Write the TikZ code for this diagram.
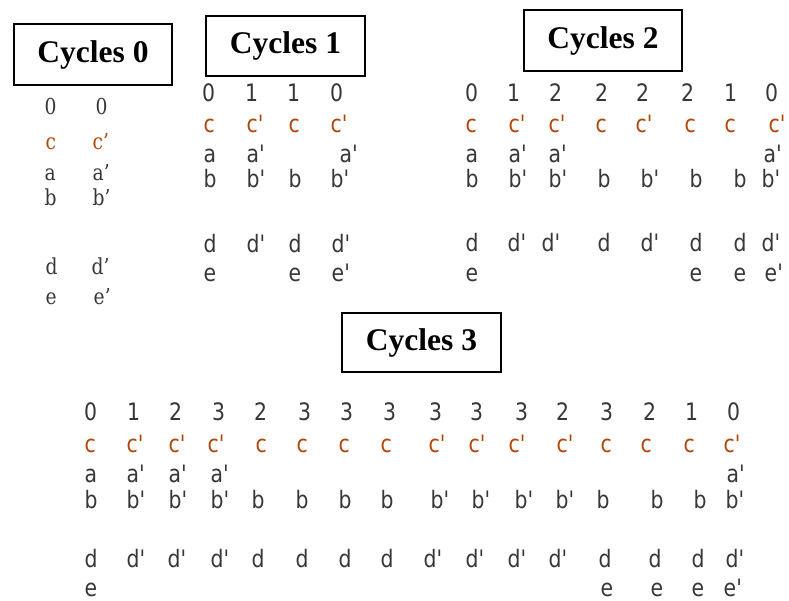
\documentclass[tikz,border=0pt]{standalone}
\usepackage{fontspec}
\newfontfamily\gridfont[FakeStretch=0.85]{DejaVu Sans}
\newfontfamily\oldfont[FakeStretch=0.85]{DejaVu Serif}
\newfontfamily\titlefont{Liberation Serif}
\definecolor{cc}{RGB}{175,70,10}
\definecolor{gt}{RGB}{55,55,55}
\newcommand{\myap}{\textquotesingle}
\tikzset{
  g/.style={font=\gridfont\fontsize{24}{24}\selectfont, text=gt, inner sep=0pt, anchor=base west, xshift=-1.5pt},
  gd/.style={g, anchor=base, xshift=0pt},
  gc/.style={g, text=cc},
  o/.style={font=\oldfont\fontsize{22}{22}\selectfont, text=gt, inner sep=0pt, anchor=base west, xshift=-1.5pt},
  od/.style={o, anchor=base, xshift=0pt},
  oc/.style={o, text=cc},
  titlebox/.style={draw, line width=1.6pt, inner sep=0pt, font=\titlefont\bfseries\fontsize{31.5}{31.5}\selectfont}
}
\begin{document}
\begin{tikzpicture}[x=1pt,y=-1pt]
\useasboundingbox (0,0) rectangle (789,601);
% title boxes
\node[titlebox, minimum width=158pt, minimum height=61pt] (t0) at (93,54.5) {Cycles 0};
\node[titlebox, minimum width=159pt, minimum height=60pt] (t1) at (285.5,46) {Cycles 1};
\node[titlebox, minimum width=158pt, minimum height=61pt] (t2) at (603,40.5) {Cycles 2};
\node[titlebox, minimum width=159pt, minimum height=59pt] (t3) at (421.5,342.5) {Cycles 3};
% Cycles 0
\foreach \x/\t [count=\i] in {52/0,103/0} \node[od] (z0n\i) at (\x,115) {\t};
\foreach \x/\t [count=\i] in {47/c,94/c’} \node[oc] (z0c\i) at (\x,150) {\t};
\foreach \x/\t [count=\i] in {46/a,94/a’} \node[o] (z0a\i) at (\x,181) {\t};
\foreach \x/\t [count=\i] in {46/b,94/b’} \node[o] (z0b\i) at (\x,206) {\t};
\foreach \x/\t [count=\i] in {47/d,93/d’} \node[o] (z0d\i) at (\x,275) {\t};
\foreach \x/\t [count=\i] in {47/e,95/e’} \node[o] (z0e\i) at (\x,305) {\t};
% Cycles 1
\foreach \x/\t [count=\i] in {210/0,253/1,295/1,338/0} \node[gd] (z1n\i) at (\x,102) {\t};
\foreach \x/\t [count=\i] in {205/c,248/c\myap,290/c,332/c\myap} \node[gc] (z1c\i) at (\x,133) {\t};
\foreach \x/\t [count=\i] in {205/a,248/a\myap,341/a\myap} \node[g] (z1a\i) at (\x,163) {\t};
\foreach \x/\t [count=\i] in {205/b,248/b\myap,290/b,332/b\myap} \node[g] (z1b\i) at (\x,188) {\t};
\foreach \x/\t [count=\i] in {205/d,248/d\myap,290/d,333/d\myap} \node[g] (z1d\i) at (\x,253) {\t};
\foreach \x/\t [count=\i] in {205/e,290/e,333/e\myap} \node[g] (z1e\i) at (\x,282) {\t};
% Cycles 2
\foreach \x/\t [count=\i] in {473/0,515/1,557/2,603/2,644/2,689/2,732/1,773/0} \node[gd] (z2n\i) at (\x,102) {\t};
\foreach \x/\t [count=\i] in {467/c,510/c\myap,550/c\myap,597/c,637/c\myap,686/c,726/c,770/c\myap} \node[gc] (z2c\i) at (\x,133) {\t};
\foreach \x/\t [count=\i] in {467/a,510/a\myap,550/a\myap,765/a\myap} \node[g] (z2a\i) at (\x,163) {\t};
\foreach \x/\t [count=\i] in {467/b,510/b\myap,550/b\myap,599/b,642/b\myap,691/b,735/b,763/b\myap} \node[g] (z2b\i) at (\x,188) {\t};
\foreach \x/\t [count=\i] in {467/d,509/d\myap,543/d\myap,599/d,642/d\myap,691/d,735/d,763/d\myap} \node[g] (z2d\i) at (\x,252) {\t};
\foreach \x/\t [count=\i] in {467/e,691/e,735/e,766/e\myap} \node[g] (z2e\i) at (\x,282) {\t};
% Cycles 3
\foreach \x/\t [count=\i] in {92/0,135/1,177/2,220/3,262/2,306/3,348/3,391/3,437/3,478/3,523/3,564/2,608/3,651/2,693/1,735/0} \node[gd] (z3n\i) at (\x,420) {\t};
\foreach \x/\t [count=\i] in {86/c,128/c\myap,170/c\myap,209/c\myap,257/c,298/c,340/c,382/c,430/c\myap,470/c\myap,510/c\myap,558/c\myap,602/c,642/c,685/c,725/c\myap} \node[gc] (z3c\i) at (\x,452) {\t};
\foreach \x/\t [count=\i] in {86/a,128/a\myap,170/a\myap,212/a\myap,728/a\myap} \node[g] (z3a\i) at (\x,482) {\t};
\foreach \x/\t [count=\i] in {86/b,128/b\myap,170/b\myap,212/b\myap,253/b,297/b,340/b,382/b,432/b\myap,473/b\myap,516/b\myap,557/b\myap,598/b,652/b,695/b,727/b\myap} \node[g] (z3b\i) at (\x,508) {\t};
\foreach \x/\t [count=\i] in {86/d,128/d\myap,169/d\myap,212/d\myap,253/d,297/d,340/d,382/d,425/d\myap,467/d\myap,509/d\myap,550/d\myap,600/d,650/d,693/d,727/d\myap} \node[g] (z3d\i) at (\x,567) {\t};
\foreach \x/\t [count=\i] in {86/e,602/e,652/e,693/e,725/e\myap} \node[g] (z3e\i) at (\x,596) {\t};
\end{tikzpicture}
\end{document}
